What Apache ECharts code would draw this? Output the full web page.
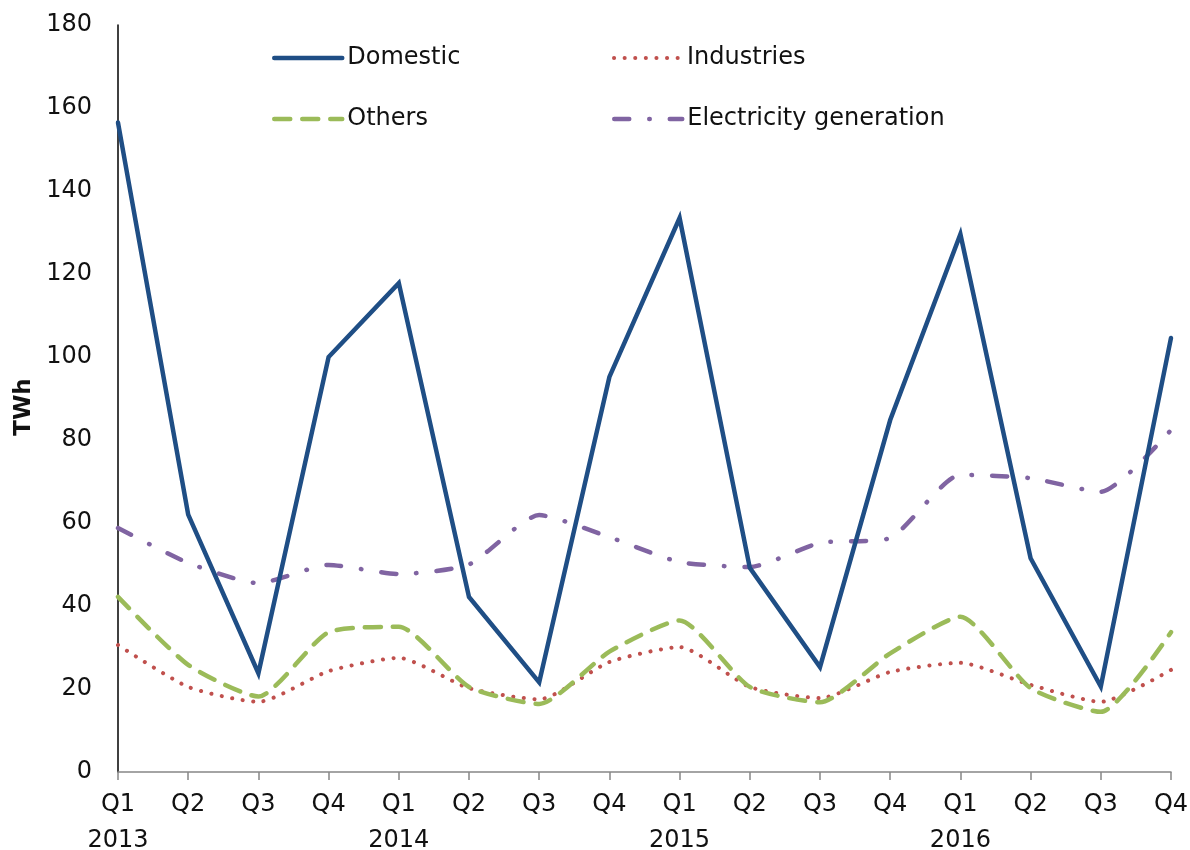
<!DOCTYPE html>
<html>
<head>
<meta charset="utf-8">
<script src="https://cdn.jsdelivr.net/npm/echarts@6/dist/echarts.min.js"></script>
<style>html,body{margin:0;padding:0;background:#fff}#c{width:1190px;height:850px}</style>
</head>
<body>
<div id="c"></div>
<script>
const categories = ['Q1\n2013','Q2','Q3','Q4','Q1\n2014','Q2','Q3','Q4','Q1\n2015','Q2','Q3','Q4','Q1\n2016','Q2','Q3','Q4'];
const domestic = [156.5, 62, 23.8, 100, 117.8, 42.2, 21.6, 95.2, 133.5, 49.2, 25.3, 84.8, 129.6, 51.5, 20.6, 104.6];
const industries = [30.6, 20.5, 16.9, 24.3, 27.5, 20.2, 17.5, 26.5, 30.1, 20.5, 17.8, 24.1, 26.3, 21, 16.9, 24.6];
const others = [42.2, 25.8, 18.2, 33.7, 35, 20.5, 16.4, 29, 36.5, 20.5, 16.8, 28.6, 37.4, 20.2, 14.5, 33.7];
const electricity = [58.8, 50.4, 45.5, 49.9, 47.7, 50, 61.9, 56.6, 50.6, 49.4, 55.2, 56.4, 71.6, 70.8, 67.5, 82.4];
const yTicks = {min: 0, max: 180, interval: 20};

const FONT = '"DejaVu Sans", sans-serif';
const chart = echarts.init(document.getElementById('c'));

function legendAt(name, left, top, width) {
  return {
    data: [name], left: left, top: top, padding: 0,
    itemWidth: 68, itemHeight: 22, itemGap: 0,
    lineStyle: {width: width},
    itemStyle: {opacity: 0},
    textStyle: {fontFamily: FONT, fontSize: 24, color: '#111', padding: [0, 0, 0, 0]},
    selectedMode: false
  };
}

chart.setOption({
  backgroundColor: '#fff',
  animation: false,
  legend: [
    legendAt('Domestic', 272, 46, 4.5),
    legendAt('Industries', 612, 46, 4),
    legendAt('Others', 272, 107, 4.5),
    legendAt('Electricity generation', 612, 107, 4.5)
  ],
  grid: {left: 118, right: 19, top: 25, bottom: 78, containLabel: false, outerBoundsMode: 'none'},
  xAxis: {
    type: 'category', data: categories, boundaryGap: false,
    axisLine: {lineStyle: {color: '#868686', width: 1.5}},
    axisTick: {show: true, length: 8, lineStyle: {color: '#868686', width: 1.5}},
    axisLabel: {fontFamily: FONT, fontSize: 24, color: '#111', margin: 15, lineHeight: 36, interval: 0}
  },
  yAxis: {
    type: 'value', min: yTicks.min, max: yTicks.max, interval: yTicks.interval,
    name: 'TWh', nameLocation: 'middle', nameGap: 82, nameRotate: 90,
    nameTextStyle: {fontFamily: FONT, fontSize: 23, fontWeight: 'bold', color: '#111', padding: [0, 17, 0, 0]},
    axisLine: {show: true, lineStyle: {color: '#000', width: 1.5}},
    axisTick: {show: false},
    splitLine: {show: false},
    axisLabel: {fontFamily: FONT, fontSize: 24, color: '#111', margin: 26}
  },
  series: [
    {name: 'Domestic', type: 'line', data: domestic, symbol: 'none', showSymbol: false,
     lineStyle: {color: '#1f4e85', width: 4.5, cap: 'round', join: 'miter'}, itemStyle: {color: '#1f4e85'}, z: 5},
    {name: 'Industries', type: 'line', data: industries, symbol: 'none', showSymbol: false, smooth: 0.2,
     lineStyle: {color: '#c0504d', width: 4, type: [0.1, 10.5], cap: 'round'}, itemStyle: {color: '#c0504d'}, z: 2},
    {name: 'Others', type: 'line', data: others, symbol: 'none', showSymbol: false, smooth: 0.2,
     lineStyle: {color: '#9bbb59', width: 4.5, type: [16, 12], cap: 'round'}, itemStyle: {color: '#9bbb59'}, z: 3},
    {name: 'Electricity generation', type: 'line', data: electricity, symbol: 'none', showSymbol: false, smooth: 0.2,
     lineStyle: {color: '#8064a2', width: 4.5, type: [15, 20, 0.5, 20], cap: 'round'}, itemStyle: {color: '#8064a2'}, z: 4}
  ]
});
</script>
</body>
</html>
